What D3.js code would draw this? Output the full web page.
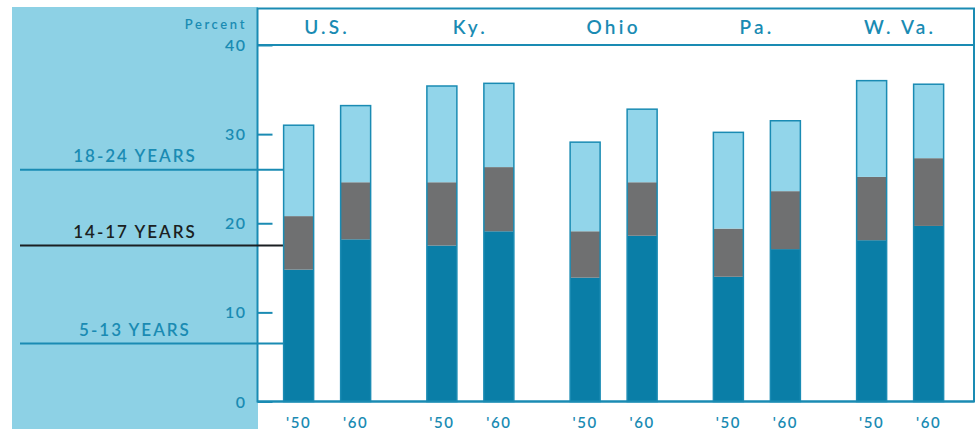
<!DOCTYPE html>
<html>
<head>
<meta charset="utf-8">
<script src="https://cdn.jsdelivr.net/npm/d3@7/dist/d3.min.js"></script>
<style>
  html, body { margin: 0; padding: 0; background: #ffffff; }
  svg { display: block; }
  text { font-family: Lato, "Open Sans", sans-serif; font-weight: 600; }
</style>
</head>
<body>
<svg id="chart" width="979" height="434"></svg>
<script>
// Areas and census years
const groups = ["U.S.", "Ky.", "Ohio", "Pa.", "W. Va."];
const years = ["'50", "'60"];

// Share of population (percent) by age bracket, per area and year: '50 then '60
const age5to13  = [14.8, 18.2, 17.5, 19.1, 13.9, 18.6, 14.0, 17.1, 18.1, 19.7];
const age14to17 = [ 6.0,  6.4,  7.1,  7.2,  5.2,  6.0,  5.4,  6.5,  7.1,  7.6];
const age18to24 = [10.2,  8.6, 10.8,  9.4, 10.0,  8.2, 10.8,  7.9, 10.8,  8.3];

const ageLabels = ["5-13 YEARS", "14-17 YEARS", "18-24 YEARS"];
const labelLevels = [6.5, 17.5, 26.0];
const yTicks = [0, 10, 20, 30, 40];

const teal = "#1a8bb3";
const colors = ["#0a7ea7", "#6f7071", "#92d5ea"];
const labelColors = [teal, "#1b1f22", teal];

const svg = d3.select("#chart");

// Scales
const y = d3.scaleLinear().domain([0, 40]).range([401.5, 45]);
const xg = d3.scaleBand().domain(groups).range([255.5, 971.75]);
const xy = d3.scalePoint().domain(years).range([-28.5, 28.5]);
const barW = 30;

// Stack the three brackets
const rows = [];
groups.forEach((g, gi) => {
  years.forEach((yr, yi) => {
    const i = gi * 2 + yi;
    rows.push({ group: g, year: yr, a: age5to13[i], b: age14to17[i], c: age18to24[i] });
  });
});
const stack = d3.stack().keys(["a", "b", "c"]);
const series = stack(rows);
const cx = d => xg(d.data.group) + xg.bandwidth() / 2 + xy(d.data.year);

// Left shaded panel
svg.append("rect")
  .attr("x", 12).attr("y", 7).attr("width", 246).attr("height", 422)
  .attr("fill", "#8dd1e5");

// Chart frame
const frameL = 257.5, frameR = 974, frameT = 8.5;
svg.append("rect")
  .attr("x", frameL).attr("y", frameT)
  .attr("width", frameR - frameL).attr("height", y(0) - frameT)
  .attr("fill", "#ffffff").attr("stroke", teal).attr("stroke-width", 2);

// Header rule at 40 percent
svg.append("line")
  .attr("x1", frameL).attr("x2", frameR)
  .attr("y1", y(40)).attr("y2", y(40))
  .attr("stroke", teal).attr("stroke-width", 2);

// Left axis: ticks point inward
const axis = d3.axisLeft(y).tickValues(yTicks).tickSize(-15).tickPadding(11)
  .tickFormat(d3.format("d"));
const ax = svg.append("g").attr("transform", `translate(${frameL},0)`).call(axis);
ax.select(".domain").remove();
ax.selectAll(".tick line").attr("stroke", teal).attr("stroke-width", 2);
ax.selectAll(".tick text")
  .attr("fill", teal).attr("font-size", 16).style("letter-spacing", "1.5px")
  .style("font-family", "Lato, sans-serif").style("font-weight", 600)
  .attr("dy", "0.35em");

svg.append("text")
  .attr("x", 247).attr("y", 29)
  .attr("text-anchor", "end")
  .attr("fill", teal).attr("font-size", 13).attr("font-weight", 700)
  .style("letter-spacing", "2.6px")
  .text("Percent");

// Bracket labels with leader lines
const leaderEnd = xg(groups[0]) + xg.bandwidth() / 2 + xy(years[0]) - barW / 2;
ageLabels.forEach((lab, i) => {
  svg.append("line")
    .attr("x1", 20).attr("x2", leaderEnd)
    .attr("y1", y(labelLevels[i])).attr("y2", y(labelLevels[i]))
    .attr("stroke", labelColors[i]).attr("stroke-width", 2);
  svg.append("text")
    .attr("x", 135).attr("y", y(labelLevels[i]) - 8)
    .attr("text-anchor", "middle")
    .attr("fill", labelColors[i]).attr("font-size", 17)
    .style("letter-spacing", "2px")
    .text(lab);
});

// Stacked bars
series.forEach((s, si) => {
  svg.append("g").selectAll("rect").data(s).join("rect")
    .attr("x", d => cx(d) - barW / 2)
    .attr("width", barW)
    .attr("y", d => y(d[1]))
    .attr("height", d => y(d[0]) - y(d[1]))
    .attr("fill", colors[si]);
});
// Outline of each bar
svg.append("g").selectAll("rect").data(series[2]).join("rect")
  .attr("x", d => cx(d) - barW / 2)
  .attr("width", barW)
  .attr("y", d => y(d[1]))
  .attr("height", d => y(0) - y(d[1]))
  .attr("fill", "none").attr("stroke", teal).attr("stroke-width", 1.5);

// Baseline
svg.append("line")
  .attr("x1", frameL).attr("x2", frameR)
  .attr("y1", y(0)).attr("y2", y(0))
  .attr("stroke", teal).attr("stroke-width", 2);

// Area names in header band
svg.append("g").selectAll("text").data(groups).join("text")
  .attr("x", g => xg(g) + xg.bandwidth() / 2)
  .attr("y", 34)
  .attr("text-anchor", "middle")
  .attr("fill", teal).attr("font-size", 19)
  .style("letter-spacing", "3.2px")
  .text(g => g);

// Year labels under bars
svg.append("g").selectAll("text").data(series[0]).join("text")
  .attr("x", d => cx(d))
  .attr("y", 428)
  .attr("text-anchor", "middle")
  .attr("fill", teal).attr("font-size", 15)
  .style("letter-spacing", "1.5px")
  .text(d => d.data.year);
</script>
</body>
</html>
